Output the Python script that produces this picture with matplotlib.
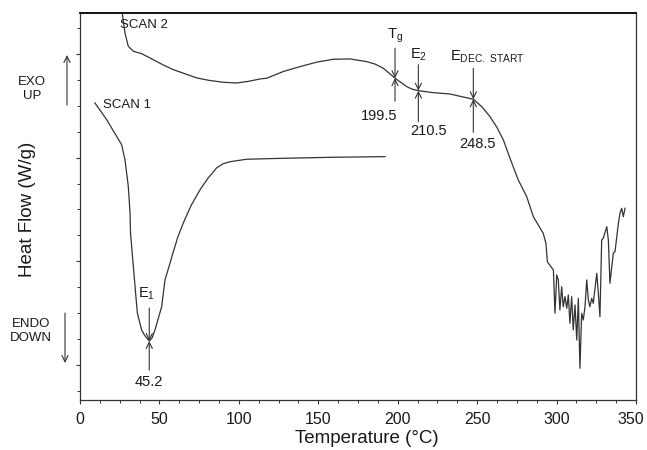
import numpy as np
import matplotlib
matplotlib.use('Agg')
import matplotlib.pyplot as plt
from matplotlib.patches import FancyArrowPatch
from matplotlib.transforms import ScaledTranslation

plt.rcParams['font.family'] = ['Liberation Sans', 'DejaVu Sans']
plt.rcParams['mathtext.default'] = 'regular'

# DSC data (heat flow in arbitrary units, no y tick labels)
scan1_T = [9.4, 16.8, 26.2, 28.3, 30.4, 31.5, 31.8, 34.3, 36.1, 38.8, 40.5, 42.0, 43.6,
           45.5, 47.2, 51.4, 53.5, 56.7, 58.5, 61.5, 65.0, 70.0, 75.5, 80.5, 86.0, 90.0,
           94.4, 104.9, 127.8, 159.3, 192.0]
scan1_hf = [2.527, 2.365, 2.124, 1.980, 1.723, 1.466, 1.273, 0.820, 0.501, 0.338, 0.290,
            0.260, 0.231, 0.265, 0.338, 0.562, 0.820, 0.984, 1.080, 1.230, 1.369, 1.540,
            1.688, 1.800, 1.900, 1.940, 1.960, 1.984, 1.993, 2.003, 2.009]

scan2_T = [25.9, 28.3, 30.4, 33.6, 38.8, 46.1, 52.0, 58.7, 73.5, 81.0, 90.2, 98.6, 106.0,
           113.3, 117.5, 128.0, 138.5, 149.0, 159.5, 170.0, 180.5, 186.0, 190.9, 194.5,
           198.3, 205.7, 209.0, 213.0, 222.4, 232.9, 247.6, 253.0, 258.1, 262.5, 266.5,
           271.0, 275.9, 281.2, 285.4, 291.6, 293.3, 294.2, 298.0,
           299.0, 300.1, 301.1, 302.1, 303.2, 304.2, 305.3, 306.4, 307.4, 308.4, 309.5,
           310.5, 311.6, 312.7, 313.7, 314.7, 315.8, 316.8, 317.9, 319.0, 320.0, 321.0,
           322.1, 323.1, 325.3, 326.3, 327.3, 328.4, 329.4, 331.6, 332.6, 333.6, 335.7,
           336.8, 338.9, 339.9, 341.0, 342.0, 343.1]
scan2_hf = [3.47, 3.202, 3.073, 3.025, 3.002, 2.944, 2.896, 2.848, 2.768, 2.745, 2.726,
            2.719, 2.735, 2.758, 2.765, 2.830, 2.877, 2.920, 2.948, 2.951, 2.925, 2.900,
            2.861, 2.815, 2.765, 2.684, 2.660, 2.645, 2.626, 2.613, 2.562, 2.490, 2.394,
            2.290, 2.170, 1.980, 1.784, 1.623, 1.430, 1.270, 1.174, 0.996, 0.916,
            0.499, 0.868, 0.820, 0.530, 0.755, 0.562, 0.659, 0.547, 0.675, 0.402, 0.659,
            0.338, 0.579, 0.241, 0.643, -0.032, 0.499, 0.434, 0.562, 0.820, 0.627, 0.562,
            0.643, 0.595, 0.884, 0.691, 0.466, 1.205, 1.222, 1.334, 1.205, 0.788, 1.077,
            1.093, 1.366, 1.463, 1.511, 1.430, 1.511]

# marked events: name, curve, arrow position, printed value
event_names = ['E$_1$', 'T$_g$', 'E$_2$', 'E$_{DEC.\\ START}$']
event_scan = [1, 2, 2, 2]
event_T = [43.6, 198.3, 213.0, 247.6]
event_labels = ['45.2', '199.5', '210.5', '248.5']

line_col = '#333333'
txt_col = '#1a1a1a'

fig = plt.figure(figsize=(6.47, 4.5), dpi=100)
ax = fig.add_axes([80/647, 1 - 400/450, 556/647, 387/450])

ax.plot(scan1_T, scan1_hf, color=line_col, lw=0.9)
ax.plot(scan2_T, scan2_hf, color=line_col, lw=0.9)

ax.set_xlim(0, 350)
ax.set_ylim(-0.3375, 3.394)
ax.set_xticks(np.arange(0, 351, 50))
ax.set_xticks(np.arange(0, 351, 12.5), minor=True)
ax.set_yticks(np.arange(0, 3.01, 1))
ax.set_yticks(np.arange(-0.25, 3.3, 0.25), minor=True)
ax.set_yticklabels([])
ax.tick_params(which='major', direction='out', length=3, width=0.8, pad=6,
               labelsize=11.5, colors='#333333', labelcolor=txt_col)
ax.tick_params(which='minor', direction='out', length=2, width=0.7, colors='#333333')
for s in ax.spines.values():
    s.set_linewidth(0.9)
    s.set_color('#333333')
ax.spines['top'].set_color('black')
ax.spines['top'].set_linewidth(1.3)

# keep the last tick label inside the figure, as in the original
last = ax.get_xticklabels()[-1]
last.set_transform(last.get_transform() + ScaledTranslation(-0.05, 0, fig.dpi_scale_trans))

ax.set_xlabel('Temperature (\u00b0C)', fontsize=13.5, color=txt_col)
ax.xaxis.set_label_coords(0.516, -0.078)
fig.text(28/647, 1 - 209/450, 'Heat Flow (W/g)', rotation=90, fontsize=13.5,
         color=txt_col, ha='center', va='center')

ax.text(25.0, 3.28, 'SCAN 2', fontsize=9.5, color=txt_col, ha='left', va='center')
ax.text(14.5, 2.51, 'SCAN 1', fontsize=9.5, color=txt_col, ha='left', va='center')

arrow_kw = dict(arrowstyle='->,head_length=0.45,head_width=0.22', lw=0.8, color='#333333',
                shrinkA=0, shrinkB=0)

# event arrows: (arrow above, arrow below, name offset, value offset) in pixels
up_len = [33, 30, 26, 31]
down_len = [29, 23, 31, 33]
name_off = [(-3, 39), (0, 33), (0, 28), (-23, 34)]
name_ha = ['center', 'center', 'center', 'left']
val_off = [(0, -34), (-16, -31), (10, -33), (4, -38)]

for i in range(len(event_T)):
    if event_scan[i] == 1:
        yv = np.interp(event_T[i], scan1_T, scan1_hf)
    else:
        yv = np.interp(event_T[i], scan2_T, scan2_hf)
    pt = (event_T[i], yv)
    ax.annotate('', xy=pt, xytext=(0, up_len[i]), textcoords='offset pixels',
                arrowprops=arrow_kw)
    ax.annotate('', xy=pt, xytext=(0, -down_len[i]), textcoords='offset pixels',
                arrowprops=arrow_kw)
    ax.annotate(event_names[i], xy=pt, xytext=name_off[i], textcoords='offset pixels',
                ha=name_ha[i], va='bottom', fontsize=10.5, color=txt_col)
    ax.annotate(event_labels[i], xy=pt, xytext=val_off[i], textcoords='offset pixels',
                ha='center', va='top', fontsize=10.5, color=txt_col)

# EXO UP / ENDO DOWN markers
fig.text(32/647, 1 - 89/450, 'EXO\nUP', fontsize=9.5, color=txt_col,
         ha='center', va='center', linespacing=1.15)
fig.text(31/647, 1 - 331/450, 'ENDO\nDOWN', fontsize=9.5, color=txt_col,
         ha='center', va='center', linespacing=1.15)
fig.add_artist(FancyArrowPatch((67, 450 - 105), (67, 450 - 55), transform=None,
                               mutation_scale=10, **arrow_kw))
fig.add_artist(FancyArrowPatch((65, 450 - 313), (65, 450 - 363), transform=None,
                               mutation_scale=10, **arrow_kw))

fig.savefig('out.png', dpi=100, facecolor='white')
